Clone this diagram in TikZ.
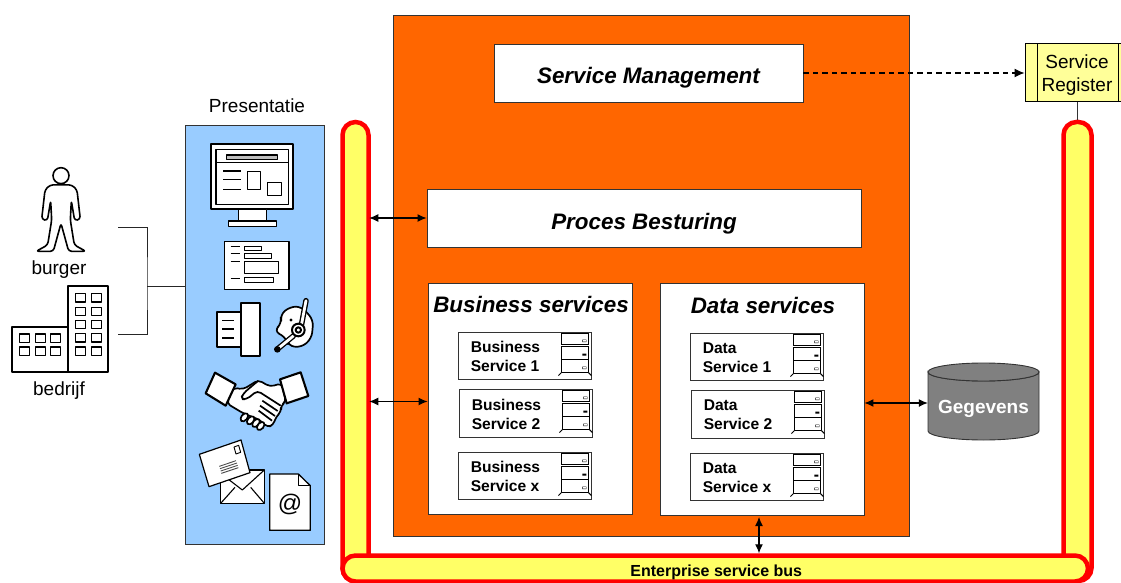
\documentclass[tikz,border=0pt]{standalone}
\usepackage{fontspec}
\setmainfont{Liberation Sans}
\usetikzlibrary{arrows.meta}
\definecolor{orng}{HTML}{FF6600}
\definecolor{skyb}{HTML}{99CCFF}
\definecolor{tube}{HTML}{FFFF66}
\definecolor{regy}{HTML}{FFFF99}
\definecolor{dbg}{HTML}{808080}
\newcommand{\fs}[1]{\fontsize{#1}{#1}\selectfont}
\newcommand{\drop}[2]{\raisebox{-#1pt}[0pt][0pt]{#2}}
\tikzset{
  x=1pt,y=-1pt,
  panel/.style={draw=black!80,line width=.9pt,inner sep=0pt,fill=white},
  tubepart/.style={draw=red,line width=4.5pt,fill=tube,rounded corners=13pt,inner sep=0pt},
  arr/.style={{Latex[length=9pt,width=8pt]}-{Latex[length=9pt,width=8pt]},line width=1.1pt,black},
  ttl/.style={font=\bfseries\itshape\fontsize{22.4}{22.4}\selectfont},
  lbl/.style={inner sep=0pt,font=\fs{19}},
  zA/.style={x=.33333pt,y=-.33333pt,yshift=-90pt,line join=round},
  zB/.style={x=.33333pt,y=-.33333pt,xshift=180pt,yshift=-340pt,line join=round},
  icon/.style={draw=black,fill=white,line width=1.5pt},
  iconb/.style={draw=black,fill=white,line width=2.1pt},
  srv/.style={draw=black,fill=white,line width=1pt},
}
\newcommand{\svc}[6]{% name, x1, y1, x2, y2, lines
  \node[panel,minimum width=#4pt-#2pt,minimum height=#5pt-#3pt] (#1) at ({(#2+#4)/2},{(#3+#5)/2}) {};
  \node[anchor=west,inner sep=0pt,align=left,font=\bfseries\fontsize{15.6}{19}\selectfont] (#1t) at ([xshift=13pt,yshift=-1pt]#1.west) {#6};
  \begin{scope}[shift={(#1.north east)}]
    \draw[srv] (-30,2) rectangle (-3,13);
    \draw[srv] (-30,15) rectangle (-3,28);
    \draw[srv] (-30,28) rectangle (-3,41);
    \draw[srv] (-33,44) -- (-30,41) (-3,41) -- (0,44);
    \fill (-9,8) rectangle (-5,10.5) (-9,22) rectangle (-5,24) (-9,35) rectangle (-5,37.5);
    \fill[white] (-8.3,8.6) rectangle (-5.7,10) (-8.3,35.6) rectangle (-5.7,37);
  \end{scope}}
\begin{document}
\begin{tikzpicture}
\useasboundingbox (0,0) rectangle (1121,583);
\clip (0,0) rectangle (1121,583);
\fill[white] (0,0) rectangle (1121,583);

% orange block and boxes
\node[draw=black!80,line width=.9pt,fill=orng,minimum width=516pt,minimum height=521pt,inner sep=0pt] (core) at (651,275.5) {};
\node[panel,ttl,minimum width=309pt,minimum height=58pt] (sm) at (648.5,73) {\drop{11}{Service Management}};
\node[panel,ttl,minimum width=434pt,minimum height=58pt] (proc) at (644,218) {\drop{11}{Proces Besturing}};
\node[panel,minimum width=204pt,minimum height=231pt] (biz) at (530,398.5) {};
\node[ttl,inner sep=0pt] (bizt) at (531,304) {Business services};
\node[panel,minimum width=204pt,minimum height=232pt] (data) at (762,399) {};
\node[ttl,inner sep=0pt] (datat) at (763,305) {Data services};

\svc{b1}{458}{332}{591}{379}{Business\\Service 1}{}
\svc{b2}{459}{389}{592}{437}{Business\\Service 2}{}
\svc{bx}{458}{452}{591}{499}{Business\\Service x}{}
\svc{d1}{690}{333}{823}{380}{Data\\Service 1}{}
\svc{d2}{691}{390}{824}{438}{Data\\Service 2}{}
\svc{dx}{690}{453}{823}{500}{Data\\Service x}{}

% tubes and bus
\node[tubepart,minimum width=26pt,minimum height=459pt] (tl) at (355.5,351.5) {};
\node[tubepart,minimum width=28pt,minimum height=459pt] (tr) at (1077.5,351.5) {};
\node[tubepart,minimum width=745.5pt,minimum height=26pt,font=\bfseries\fontsize{16}{16}\selectfont] (bus) at (715.25,568.5) {\drop{8}{\hspace*{2pt}Enterprise service bus}};

% service register
\node[draw=black,line width=1pt,fill=regy,minimum width=96pt,minimum height=58pt,inner sep=0pt] (reg) at (1073,73) {};
\node[inner sep=0pt,align=center,font=\fontsize{19}{23.5}\selectfont] (regt) at (1077,75) {Service\\Register};
\draw[black,line width=1pt] (1037,44) -- (1037,102) (1118,44) -- (1118,102);
\draw[black!80,line width=1pt] (reg.south -| tr.north) -- (tr.north);

% presentatie
\node[draw=black!80,line width=.9pt,fill=skyb,minimum width=139pt,minimum height=419pt,inner sep=0pt] (pres) at (254.5,334.5) {};
\node[lbl] (prest) at (257,105.5) {Presentatie};

% gegevens
\path[fill=dbg,draw=black!80,line width=.9pt] (928,372) -- (928,431) arc[start angle=180,end angle=360,x radius=55.5pt,y radius=9pt] -- (1039,372) arc[start angle=360,end angle=180,x radius=55.5pt,y radius=9pt] -- cycle;
\path[fill=dbg,draw=black!80,line width=.9pt] (983.5,372) ellipse (55.5pt and 9pt);
\node[inner sep=0pt,minimum width=111pt,minimum height=74pt,text=white,font=\bfseries\fs{19}] (geg) at (983.5,403) {\drop{10}{Gegevens}};

% connectors
\draw[arr,shorten <=-1.5pt] (tl.east |- proc.west) -- (proc.west);
\draw[arr,shorten <=-1.5pt] (tl.east |- biz.west) ++(0,3) coordinate (a1) -- (a1 -| biz.west);
\draw[arr] (data.east |- geg.west) -- (geg.west);
\draw[arr] (759,517) coordinate (a2) -- (a2 |- bus.north);
\draw[-{Latex[length=10pt,width=9pt]},dash pattern=on 5.5pt off 4pt,line width=1.2pt] (sm.east) -- (reg.west);

\coordinate (brT) at (118,227);
\coordinate (brB) at (118,334);
\coordinate (brJ) at (147,286);
\draw[black!85,line width=1pt] (brT) -| (brJ) |- (brB);
\draw[black!85,line width=1pt] (brJ) -- (brJ -| pres.west);

% person
\begin{scope}[zA]
\draw[line width=1.6pt,fill=white] (183,257) circle (24);
\draw[line width=1.6pt,fill=white,rounded corners=3pt]
 (183,284) -- (150,285) -- (135,300) -- (125,388) -- (142,392) -- (152,332) -- (155,390) -- (143,465) -- (108,484) -- (160,484) -- (183,400)
 -- (206,484) -- (258,484) -- (223,465) -- (211,390) -- (214,332) -- (224,392) -- (241,388) -- (231,300) -- (216,285) -- cycle;
\end{scope}
\node[lbl] (burger) at (59,269.5) {burger};
% building
\begin{scope}[zA]
\draw[iconb] (35,710) rectangle (204,847);
\draw[iconb] (204,588) rectangle (325,847);
\foreach \x in {59,106,152} \foreach \y in {732,771} \draw[icon] (\x,\y) rectangle +(30,25);
\foreach \x in {226,274} \foreach \y in {611,652,691,731,771} \draw[icon] (\x,\y) rectangle +(30,25);
\end{scope}
\node[lbl] (bedrijf) at (59,390.5) {bedrijf};

% monitor
\begin{scope}[zA]
\draw[iconb] (632,162) rectangle (880,358);
\draw[icon] (648,178) rectangle (865,343);
\draw[line width=1.5pt] (648,217) -- (865,217);
\draw[icon,fill=black!25] (680,195) rectangle (833,208);
\draw[line width=1.6pt] (670,243) -- (722,243) (670,268) -- (722,268) (670,298) -- (722,298);
\draw[icon] (742,244) rectangle (782,298);
\draw[icon] (802,278) rectangle (845,316);
\draw[icon] (716,358) rectangle (800,393);
\draw[icon] (685,393) rectangle (830,410);
% form
\draw[icon] (674,455) rectangle (867,598);
\draw[line width=1.5pt] (692,470) -- (720,470) (692,491) -- (720,491) (692,515) -- (720,515) (692,565) -- (720,565);
\draw[line width=1pt,fill=white] (733,469) rectangle (785,483) (733,490) rectangle (815,506) (733,515) rectangle (837,552) (733,563) rectangle (820,577);
% printer
\draw[iconb] (650,665) rectangle (722,772);
\draw[iconb] (722,640) rectangle (781,798);
\draw[line width=1.6pt] (667,692) -- (703,692) (667,717) -- (703,717) (667,744) -- (703,744);
% headset
\draw[icon,line width=1.7pt,rounded corners=6pt] (822,722) -- (846,700) -- (840,675) -- (870,650) -- (905,650) -- (940,690) -- (935,745) -- (905,772) -- (865,768) -- (860,745) -- cycle;
\fill (873,690) circle (5);
\draw[line width=5.5pt,line cap=round] (918,632) -- (903,712);
\draw[line width=2.8pt,white,line cap=round] (918,632) -- (903,712);
\draw[line width=5.5pt,line cap=round] (880,738) -- (835,775);
\draw[line width=2.8pt,white,line cap=round] (880,738) -- (835,775);
\draw[icon,line width=2pt] (895,720) circle (19);
\draw[icon,line width=2pt] (895,720) circle (8);
\fill (832,778) circle (10);
\end{scope}

% handshake and mail
\begin{scope}[zB]
\draw[icon,line width=1.7pt,rounded corners=4pt]
 (160,143) -- (190,148) -- (235,120) -- (270,140) -- (305,130) -- (318,185) -- (302,197) -- (304,215) -- (288,230) -- (280,255) -- (262,262) -- (240,240) -- (190,220) -- (140,190) -- cycle;
\draw[line width=1.7pt,rounded corners=4pt] (235,122) -- (190,160) -- (182,178) -- (200,178) -- (232,152) -- (302,197);
\draw[line width=1.7pt] (247,182) -- (293,213) (240,197) -- (285,228) (236,212) -- (276,242);
\foreach \a/\b in {193/232,212/241,228/249,242/258}
  \draw[icon,line width=1.7pt,rotate around={50:(\a,\b)}] (\a,\b) ellipse (14 and 9);
\draw[iconb] (105,98) -- (167,133) -- (137,197) -- (77,160) -- cycle;
\draw[iconb] (300,118) -- (362,97) -- (385,168) -- (320,190) -- cycle;
% envelope
\draw[icon,line width=1.2pt] (122,390) rectangle (253,490);
\draw[line width=1.1pt] (122,400) -- (187,450) -- (253,390) (122,490) -- (165,442) (253,490) -- (212,442);
\draw[icon,line width=1.2pt] (58,343) -- (183,300) -- (210,398) -- (87,440) -- cycle;
\draw[icon,line width=.9pt] (162,321) -- (176,316) -- (182,337) -- (168,342) -- cycle;
\draw[line width=.9pt,black!70] (118,379) -- (168,362) (120,386) -- (171,369) (122,393) -- (173,376) (124,400) -- (175,383);
% document
\draw[iconb,line width=1.3pt] (269,402) -- (355,402) -- (391,437) -- (391,571) -- (269,571) -- cycle;
\draw[line width=1pt] (355,402) -- (355,437) -- (391,437);
\node[inner sep=0pt,font=\fs{24}] (at) at (330,492) {@};
\end{scope}
\end{tikzpicture}
\end{document}
